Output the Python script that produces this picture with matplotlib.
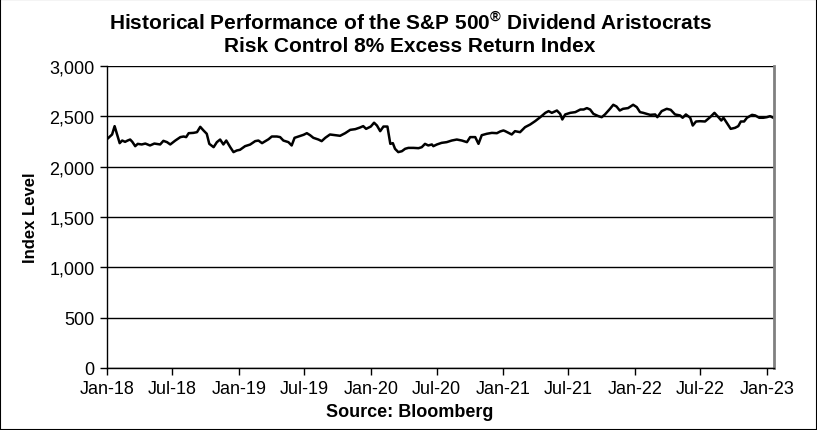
import pandas as pd
import matplotlib.pyplot as plt
import matplotlib.dates as mdates
from matplotlib.ticker import FuncFormatter, MultipleLocator
from matplotlib.patches import Rectangle

plt.rcParams['font.family'] = ['Liberation Sans', 'DejaVu Sans']
plt.rcParams['mathtext.fontset'] = 'custom'
plt.rcParams['mathtext.rm'] = 'Liberation Sans'
plt.rcParams['mathtext.bf'] = 'Liberation Sans:bold'

# index level readings (approximate)
dates = [
    "2018-01-02", "2018-01-15", "2018-01-22", "2018-01-29", "2018-02-05", "2018-02-12",
    "2018-02-20", "2018-02-27", "2018-03-06", "2018-03-12", "2018-03-20", "2018-03-27",
    "2018-04-07", "2018-04-17", "2018-04-30", "2018-05-12", "2018-05-28", "2018-06-06",
    "2018-06-16", "2018-06-25", "2018-07-09", "2018-07-23", "2018-08-01", "2018-08-08",
    "2018-08-15", "2018-08-28", "2018-09-07", "2018-09-16", "2018-09-25", "2018-10-04",
    "2018-10-11", "2018-10-23", "2018-11-01", "2018-11-10", "2018-11-19", "2018-11-27",
    "2018-12-08", "2018-12-17", "2018-12-26",
    "2019-01-04", "2019-01-18", "2019-02-01", "2019-02-15", "2019-02-24", "2019-03-06",
    "2019-03-15", "2019-03-24", "2019-04-02", "2019-04-16", "2019-04-25", "2019-05-04",
    "2019-05-18", "2019-05-27", "2019-06-04", "2019-06-15", "2019-06-29", "2019-07-08",
    "2019-07-17", "2019-07-26", "2019-08-09", "2019-08-18", "2019-08-28", "2019-09-10",
    "2019-09-24", "2019-10-08", "2019-10-22", "2019-11-05", "2019-11-19", "2019-12-02",
    "2019-12-11", "2019-12-19", "2020-01-01", "2020-01-10",
    "2020-01-18", "2020-01-27", "2020-02-05", "2020-02-16", "2020-02-24", "2020-03-02",
    "2020-03-08", "2020-03-17", "2020-03-27", "2020-04-05", "2020-04-14", "2020-04-28",
    "2020-05-12", "2020-05-21", "2020-05-30", "2020-06-08", "2020-06-18", "2020-06-22",
    "2020-07-02", "2020-07-15", "2020-07-29", "2020-08-12", "2020-08-26", "2020-09-09",
    "2020-09-23", "2020-10-02", "2020-10-16", "2020-10-25", "2020-11-03", "2020-11-17",
    "2020-12-01", "2020-12-15", "2020-12-24",
    "2021-01-02", "2021-01-07", "2021-01-25", "2021-02-03", "2021-02-17", "2021-03-03",
    "2021-03-17", "2021-03-31", "2021-04-14", "2021-04-28", "2021-05-07", "2021-05-16",
    "2021-05-30", "2021-06-08", "2021-06-14", "2021-06-22", "2021-07-06", "2021-07-20",
    "2021-08-03", "2021-08-12", "2021-08-21", "2021-08-30", "2021-09-08", "2021-09-22",
    "2021-10-01", "2021-10-10", "2021-10-24", "2021-11-02", "2021-11-11", "2021-11-20",
    "2021-11-29", "2021-12-13", "2021-12-27",
    "2022-01-06", "2022-01-15", "2022-01-24", "2022-02-12", "2022-02-26", "2022-03-04",
    "2022-03-16", "2022-03-30", "2022-04-10", "2022-04-22", "2022-05-06", "2022-05-13",
    "2022-05-22", "2022-06-03", "2022-06-10", "2022-06-19", "2022-06-30", "2022-07-14",
    "2022-07-28", "2022-08-09", "2022-08-20", "2022-08-28", "2022-09-03", "2022-09-14",
    "2022-09-23", "2022-10-05", "2022-10-14", "2022-10-21", "2022-10-30", "2022-11-07",
    "2022-11-21", "2022-11-30", "2022-12-11", "2022-12-22",
    "2023-01-01", "2023-01-10", "2023-01-19",
]
levels = [
    2275, 2318, 2401, 2318, 2232, 2258,
    2245, 2258, 2268, 2245, 2202, 2225,
    2219, 2228, 2209, 2228, 2219, 2255,
    2242, 2219, 2258, 2292, 2298, 2292,
    2331, 2334, 2341, 2394, 2358, 2325,
    2225, 2192, 2242, 2268, 2219, 2258,
    2192, 2143, 2159,
    2166, 2202, 2218, 2252, 2258, 2232,
    2252, 2271, 2298, 2298, 2292, 2258,
    2242, 2209, 2285, 2298, 2315, 2331,
    2311, 2285, 2268, 2252, 2285, 2318,
    2311, 2305, 2331, 2364, 2371, 2387,
    2401, 2374, 2397, 2435,
    2407, 2351, 2397, 2397, 2225, 2232,
    2176, 2143, 2152, 2176, 2185, 2185,
    2182, 2192, 2225, 2209, 2219, 2202,
    2219, 2235, 2242, 2258, 2268, 2258,
    2242, 2292, 2292, 2225, 2311, 2325,
    2334, 2331, 2348,
    2358, 2351, 2318, 2351, 2341, 2391,
    2417, 2451, 2490, 2533, 2550, 2533,
    2556, 2523, 2467, 2517, 2533, 2540,
    2566, 2566, 2580, 2566, 2523, 2500,
    2490, 2517, 2573, 2613, 2596, 2556,
    2573, 2580, 2613,
    2590, 2540, 2533, 2513, 2517, 2490,
    2550, 2573, 2563, 2517, 2507, 2484,
    2517, 2484, 2407, 2447, 2450, 2447,
    2490, 2533, 2490, 2457, 2484, 2424,
    2374, 2384, 2401, 2447, 2447, 2484,
    2513, 2507, 2484, 2484,
    2490, 2500, 2484,
]

x = pd.to_datetime(dates)

fig = plt.figure(figsize=(8.17, 4.31), dpi=100)
ax = fig.add_axes([0.131, 0.144, 0.816, 0.701])

ax.plot(x, levels, color='black', lw=1.8, solid_joinstyle='round')

ax.set_ylim(0, 3000)
ax.yaxis.set_major_locator(MultipleLocator(500))
ax.yaxis.set_major_formatter(FuncFormatter(lambda v, p: f"{int(v):,}"))
ax.grid(axis='y', color='black', lw=1)
ax.set_axisbelow(True)

ax.set_xlim(pd.Timestamp("2018-01-01"), pd.Timestamp("2023-01-20"))
ax.xaxis.set_major_locator(mdates.MonthLocator(bymonth=[1, 7]))
ax.xaxis.set_major_formatter(mdates.DateFormatter("%b-%y"))

for s in ['left', 'bottom']:
    ax.spines[s].set_color('black')
    ax.spines[s].set_linewidth(1)
ax.spines['top'].set_visible(False)
ax.spines['right'].set_color('#808080')
ax.spines['right'].set_linewidth(2)

ax.tick_params(axis='both', direction='out', length=5, width=1, color='black',
               labelsize=13, pad=4)

ax.set_ylabel("Index Level", fontsize=12, fontweight='bold', labelpad=8)
fig.text(0.502, 0.044, "Source: Bloomberg", ha='center', va='center',
         fontsize=13, fontweight='bold')
fig.text(0.502, 0.923, "Historical Performance of the S&P 500$^{\\mathbf{\u00ae}}$ Dividend Aristocrats\n"
         "Risk Control 8% Excess Return Index", ha='center', va='center',
         fontsize=15, fontweight='bold', linespacing=1.2)

fig.patches.append(Rectangle((0, 0), 1, 1, transform=fig.transFigure, fill=False,
                             edgecolor='black', lw=1.5))

fig.savefig("out.png", dpi=100)
